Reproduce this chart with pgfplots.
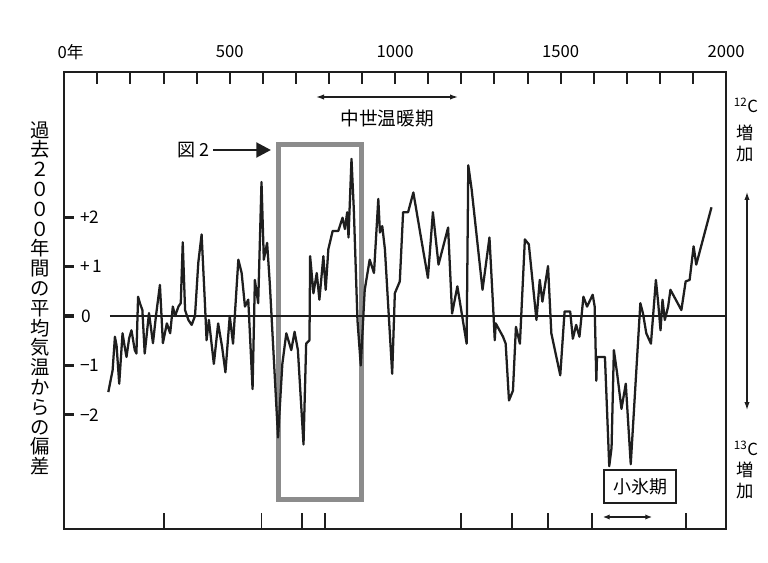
\documentclass[border=0pt]{standalone}
\usepackage{fontspec}
\setmainfont{Noto Sans CJK JP}
\usepackage{pgfplots}
\pgfplotsset{compat=1.18}
\usetikzlibrary{arrows.meta}
\definecolor{boxgray}{RGB}{140,140,140}
\definecolor{ink}{RGB}{30,30,30}

\begin{document}
\begin{tikzpicture}
\useasboundingbox (0,0) rectangle (576pt,-422.25pt);
\fill[white] (0,0) rectangle (576pt,-422.25pt);
\begin{axis}[
  at={(48.225pt,-396.75pt)}, anchor=south west,
  scale only axis, width=496.3pt, height=342.75pt,
  xmin=0, xmax=2000, ymin=-4.312, ymax=4.939,
  axis line style={line width=1.6pt, ink},
  xtick=\empty, ytick=\empty,
  clip=false,
]
% Figure 2 frame
\draw[boxgray, line width=3.75pt] (axis cs:646,3.48) rectangle (axis cs:898,-3.71);
% zero line
\draw[ink, line width=1.1pt] (axis cs:138,0) -- (axis cs:2000,0);
% temperature deviation
\addplot[ink, line width=1.7pt, line join=round, mark=none] coordinates {
(133,-1.54)(146,-1.10)(153,-0.42)(158,-0.60)(166,-1.37)(176,-0.35)(182,-0.60)(188,-0.83)
(196,-0.45)(203,-0.29)(213,-0.69)(218,-0.76)(223,0.39)(229,0.25)(236,0.12)(243,-0.76)
(256,0.06)(268,-0.55)(277,0.00)(289,0.63)(298,-0.55)(310,-0.15)(320,-0.35)(328,0.19)
(335,0.00)(345,0.19)(352,0.26)(358,1.49)(365,0.12)(375,-0.08)(385,-0.18)(395,0.00)
(405,1.08)(415,1.65)(425,0.26)(430,-0.49)(437,-0.08)(452,-0.97)(465,-0.15)(477,-0.63)
(487,-1.14)(500,0.00)(510,-0.56)(526,1.14)(536,0.87)(546,0.19)(556,0.33)(569,-1.48)
(576,0.73)(586,0.26)(596,2.71)(603,1.14)(613,1.48)(621,0.67)(646,-2.46)(659,-0.97)
(671,-0.35)(686,-0.69)(696,-0.32)(706,-0.69)(723,-2.60)(731,-0.56)(741,-0.49)(743,1.21)
(753,0.46)(763,0.87)(771,0.33)(783,1.21)(790,0.53)(798,1.35)(811,1.72)(828,1.72)
(841,1.99)(848,1.76)(855,2.10)(859,1.59)(868,3.18)(875,2.16)(886,-0.08)(896,-1.00)
(908,0.53)(923,1.14)(936,0.87)(949,2.37)(954,1.69)(961,1.82)(969,1.35)(991,-1.17)
(999,0.46)(1014,0.70)(1024,2.10)(1039,2.10)(1055,2.50)(1079,1.55)(1099,0.77)(1114,2.10)
(1131,1.04)(1160,1.79)(1172,0.05)(1188,0.60)(1216,-0.56)(1221,3.05)(1231,2.57)(1264,0.53)
(1285,1.59)(1296,0.19)(1301,-0.49)(1304,-0.15)(1326,-0.42)(1334,-0.56)(1344,-1.71)(1356,-1.51)
(1365,-0.22)(1377,-0.56)(1392,1.55)(1404,1.45)(1427,-0.08)(1437,0.73)(1445,0.29)(1462,1.01)
(1472,-0.35)(1499,-1.20)(1512,0.09)(1529,0.09)(1537,-0.46)(1547,-0.18)(1557,-0.42)(1569,0.39)
(1580,0.19)(1597,0.43)(1603,0.19)(1608,-1.31)(1610,-0.83)(1634,-0.83)(1647,-3.04)(1654,-2.67)
(1661,-0.69)(1671,-1.17)(1684,-1.88)(1697,-1.37)(1712,-3.00)(1741,0.26)(1749,0.05)(1759,-0.35)
(1773,-0.56)(1788,0.73)(1795,0.26)(1802,-0.29)(1808,0.33)(1815,-0.08)(1825,0.19)(1832,0.53)
(1865,0.12)(1878,0.70)(1890,0.73)(1902,1.41)(1910,1.04)(1956,2.20)
};
% y ticks
\draw[ink, line width=2.2pt] (axis cs:0,2) -- ([xshift=7pt]axis cs:0,2);
\draw[ink, line width=2.2pt] (axis cs:0,1) -- ([xshift=7pt]axis cs:0,1);
\draw[ink, line width=2.6pt] (axis cs:0,0) -- ([xshift=7pt]axis cs:0,0);
\draw[ink, line width=2.2pt] (axis cs:0,-1) -- ([xshift=7pt]axis cs:0,-1);
\draw[ink, line width=2.2pt] (axis cs:0,-2) -- ([xshift=7pt]axis cs:0,-2);
% y tick labels
\node[anchor=west, font=\fontsize{13}{15}\selectfont, inner sep=0pt] at ([xshift=11.8pt]axis cs:0,2) {+2};
\node[anchor=west, font=\fontsize{13}{15}\selectfont, inner sep=0pt] at ([xshift=11.8pt]axis cs:0,1) {+\,1};
\node[anchor=west, font=\fontsize{13}{15}\selectfont, inner sep=0pt] at ([xshift=13pt]axis cs:0,0) {0};
\node[anchor=west, font=\fontsize{13}{15}\selectfont, inner sep=0pt] at ([xshift=11.8pt]axis cs:0,-1) {−1};
\node[anchor=west, font=\fontsize{13}{15}\selectfont, inner sep=0pt] at ([xshift=11.8pt]axis cs:0,-2) {−2};
% bottom (era) ticks
\pgfplotsinvokeforeach{302,596,718,789,1198,1354,1462,1595,1880}{
  \draw[ink, line width=1.4pt] (axis cs:#1,-4.312) -- ([yshift=12pt]axis cs:#1,-4.312);
}
% top ticks every 100 years
\pgfplotsinvokeforeach{100,200,300,400,500,600,700,800,900,1000,1100,1200,1300,1400,1500,1600,1700,1800,1900}{
  \draw[ink, line width=1.5pt] (axis cs:#1,4.939) -- ([yshift=-9pt]axis cs:#1,4.939);
}
% top tick labels
\node[font=\fontsize{12.5}{14}\selectfont] at ([xshift=4.8pt, yshift=15pt]axis cs:0,4.939) {0年};
\node[font=\fontsize{12.5}{14}\selectfont] at ([yshift=15pt]axis cs:500,4.939) {500};
\node[font=\fontsize{12.5}{14}\selectfont] at ([yshift=15pt]axis cs:1000,4.939) {1000};
\node[font=\fontsize{12.5}{14}\selectfont] at ([yshift=15pt]axis cs:1500,4.939) {1500};
\node[font=\fontsize{12.5}{14}\selectfont] at ([yshift=15pt]axis cs:2000,4.939) {2000};
\end{axis}
\begin{scope}[x=0.75pt, y=-0.75pt]
% y axis title (vertical)
\node[anchor=north, align=center, inner sep=0pt, font=\fontsize{14.5}{14.85}\selectfont] at (40,121)
  {過\\去\\２\\０\\０\\０\\年\\間\\の\\平\\均\\気\\温\\か\\ら\\の\\偏\\差};
% medieval warm period
\draw[{Latex[length=6pt,width=4pt]}-{Latex[length=6pt,width=4pt]}, line width=1pt, ink] (316,97) -- (458,97);
\node[font=\fontsize{14}{16}\selectfont] at (387,118) {中世温暖期};
% figure 2 pointer
\node[anchor=east, inner sep=0pt, font=\fontsize{13.5}{15}\selectfont] at (210,150) {図 2};
\draw[-{Triangle[length=11pt,width=11pt]}, line width=2.2pt, ink] (213,150) -- (271,150);
% little ice age
\node[draw=ink, line width=1.2pt, minimum width=54pt, minimum height=24.5pt, inner sep=0pt,
      font=\fontsize{13.5}{15}\selectfont] at (640,486.5) {小氷期};
\draw[{Latex[length=5pt,width=4pt]}-{Latex[length=5pt,width=4pt]}, line width=0.9pt, ink] (603,517) -- (652,517);
% isotope labels
\node[font=\fontsize{12.5}{14}\selectfont, inner sep=0pt] at (746,105) {\textsuperscript{12}C};
\node[font=\fontsize{13}{14}\selectfont, inner sep=0pt] at (745,133) {増};
\node[font=\fontsize{13}{14}\selectfont, inner sep=0pt] at (745,154) {加};
\draw[{Latex[length=6pt,width=4pt]}-{Latex[length=6pt,width=4pt]}, line width=0.9pt, ink] (747,192) -- (747,410);
\node[font=\fontsize{12.5}{14}\selectfont, inner sep=0pt] at (746,448) {\textsuperscript{13}C};
\node[font=\fontsize{13}{14}\selectfont, inner sep=0pt] at (745,470) {増};
\node[font=\fontsize{13}{14}\selectfont, inner sep=0pt] at (745,491) {加};
\end{scope}
\end{tikzpicture}
\end{document}
